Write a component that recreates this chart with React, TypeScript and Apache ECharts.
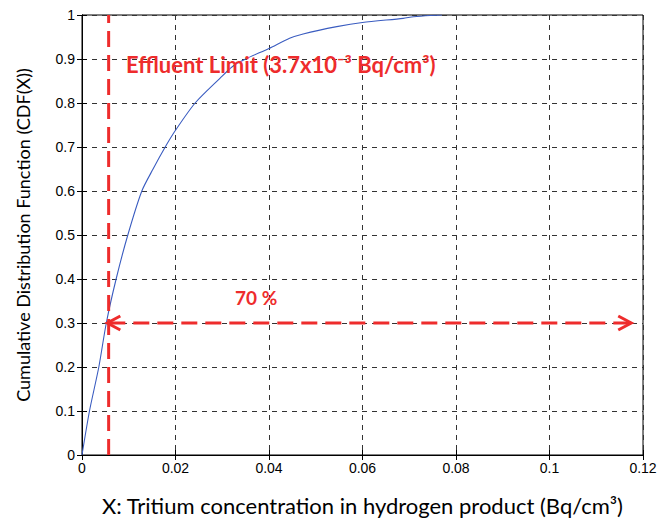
import React, { useEffect, useRef } from "react";
import * as echarts from "echarts";

const cdfX = [0, 0.0016, 0.0036, 0.0052, 0.0073, 0.0098, 0.0128, 0.0152, 0.0178, 0.02, 0.0242, 0.0295, 0.0322, 0.035, 0.04, 0.0444, 0.0473, 0.0545, 0.06, 0.0687, 0.0709, 0.0745, 0.077];
const cdfY = [0, 0.1, 0.2, 0.3, 0.4, 0.5, 0.6, 0.65, 0.7, 0.738, 0.8, 0.856, 0.883, 0.9, 0.924, 0.947, 0.957, 0.9735, 0.983, 0.9924, 0.996, 0.999, 1.0];
const limitX = 0.0057;
const arrowSpan = [0.0052, 0.1177];
const arrowY = 0.3;
const xTicks = { min: 0, max: 0.12, interval: 0.02 };
const yTicks = { min: 0, max: 1, interval: 0.1 };
const limitLabel = "Effluent Limit (3.7x10\u207B\u00B3 Bq/cm\u00B3)";
const pctLabel = "70 %";
const xTitle = "X: Tritium concentration in hydrogen product (Bq/cm\u00B3)";
const yTitle = "Cumulative Distribution Function (CDF(X))";

const RED = "#ee2c2c";

export default function App() {
  const ref = useRef<HTMLDivElement>(null);
  useEffect(() => {
    if (!ref.current) return;
    document.body.style.margin = "0";
    const chart = echarts.init(ref.current, undefined, { renderer: "svg" });
    const tickFont = { fontFamily: "Liberation Sans", fontSize: 14, color: "#000" };
    const gridLine = { show: true, lineStyle: { color: "#333", type: [5, 5] as any, width: 1 } };
    chart.setOption({
      animation: false,
      backgroundColor: "#fff",
      grid: { left: 82, right: 24, top: 15, bottom: 65, show: true, borderColor: "#000", borderWidth: 1 },
      xAxis: [
        {
          type: "value", ...xTicks, position: "bottom",
          axisLine: { show: true, lineStyle: { color: "#000" } },
          axisTick: { show: true, inside: true, length: 5, lineStyle: { color: "#000" } },
          axisLabel: { ...tickFont, margin: 6 },
          splitLine: gridLine,
          name: xTitle, nameLocation: "middle", nameGap: 39,
          nameTextStyle: { fontFamily: "Lato", fontSize: 22, color: "#000" },
        },
        {
          type: "value", ...xTicks, position: "top",
          axisLine: { show: true, lineStyle: { color: "#000" } },
          axisTick: { show: true, inside: true, length: 5, lineStyle: { color: "#000" } },
          axisLabel: { show: false }, splitLine: { show: false },
        },
      ],
      yAxis: [
        {
          type: "value", ...yTicks, position: "left",
          axisLine: { show: true, lineStyle: { color: "#000" } },
          axisTick: { show: true, inside: true, length: 5, lineStyle: { color: "#000" } },
          axisLabel: { ...tickFont, margin: 7 },
          splitLine: gridLine,
          name: yTitle, nameLocation: "middle", nameGap: 50,
          nameTextStyle: { fontFamily: "Lato", fontSize: 18, color: "#000" },
        },
        {
          type: "value", ...yTicks, position: "right",
          axisLine: { show: true, lineStyle: { color: "#000" } },
          axisTick: { show: true, inside: true, length: 5, lineStyle: { color: "#000" } },
          axisLabel: { show: false }, splitLine: { show: false },
        },
      ],
      series: [
        {
          type: "line",
          data: cdfX.map((x, i) => [x, cdfY[i]]),
          showSymbol: false,
          smooth: 0.25,
          lineStyle: { color: "#3a5cc0", width: 1.1 },
          z: 3,
        },
        {
          type: "line",
          data: [[limitX, yTicks.min], [limitX, yTicks.max]],
          showSymbol: false,
          lineStyle: { color: RED, width: 3, type: [16, 8] as any },
          z: 4,
        },
        {
          type: "custom",
          data: [[arrowSpan[0], arrowSpan[1], arrowY]],
          z: 4,
          renderItem: (params: any, api: any) => {
            const p1 = api.coord([api.value(0), api.value(2)]);
            const p2 = api.coord([api.value(1), api.value(2)]);
            const al = 14, ah = 7;
            const st = { stroke: RED, lineWidth: 3, fill: null };
            return {
              type: "group",
              children: [
                { type: "line", shape: { x1: p1[0] + 3, y1: p1[1], x2: p2[0] - 3, y2: p2[1] }, style: { ...st, lineDash: [16, 8] } },
                { type: "polyline", shape: { points: [[p1[0] + al, p1[1] - ah], [p1[0] + 1, p1[1]], [p1[0] + al, p1[1] + ah]] }, style: st },
                { type: "polyline", shape: { points: [[p2[0] - al, p2[1] - ah], [p2[0] - 1, p2[1]], [p2[0] - al, p2[1] + ah]] }, style: st },
              ],
            };
          },
        },
      ],
      graphic: [
        {
          type: "text", left: 126, top: 53, z: 10,
          style: { text: limitLabel, fill: RED, font: "bold 22px Lato" },
        },
        {
          type: "text", left: 235, top: 288, z: 10,
          style: { text: pctLabel, fill: RED, font: "bold 19px Lato" },
        },
      ],
    });
    return () => chart.dispose();
  }, []);
  return <div ref={ref} style={{ width: 667, height: 521 }} />;
}
